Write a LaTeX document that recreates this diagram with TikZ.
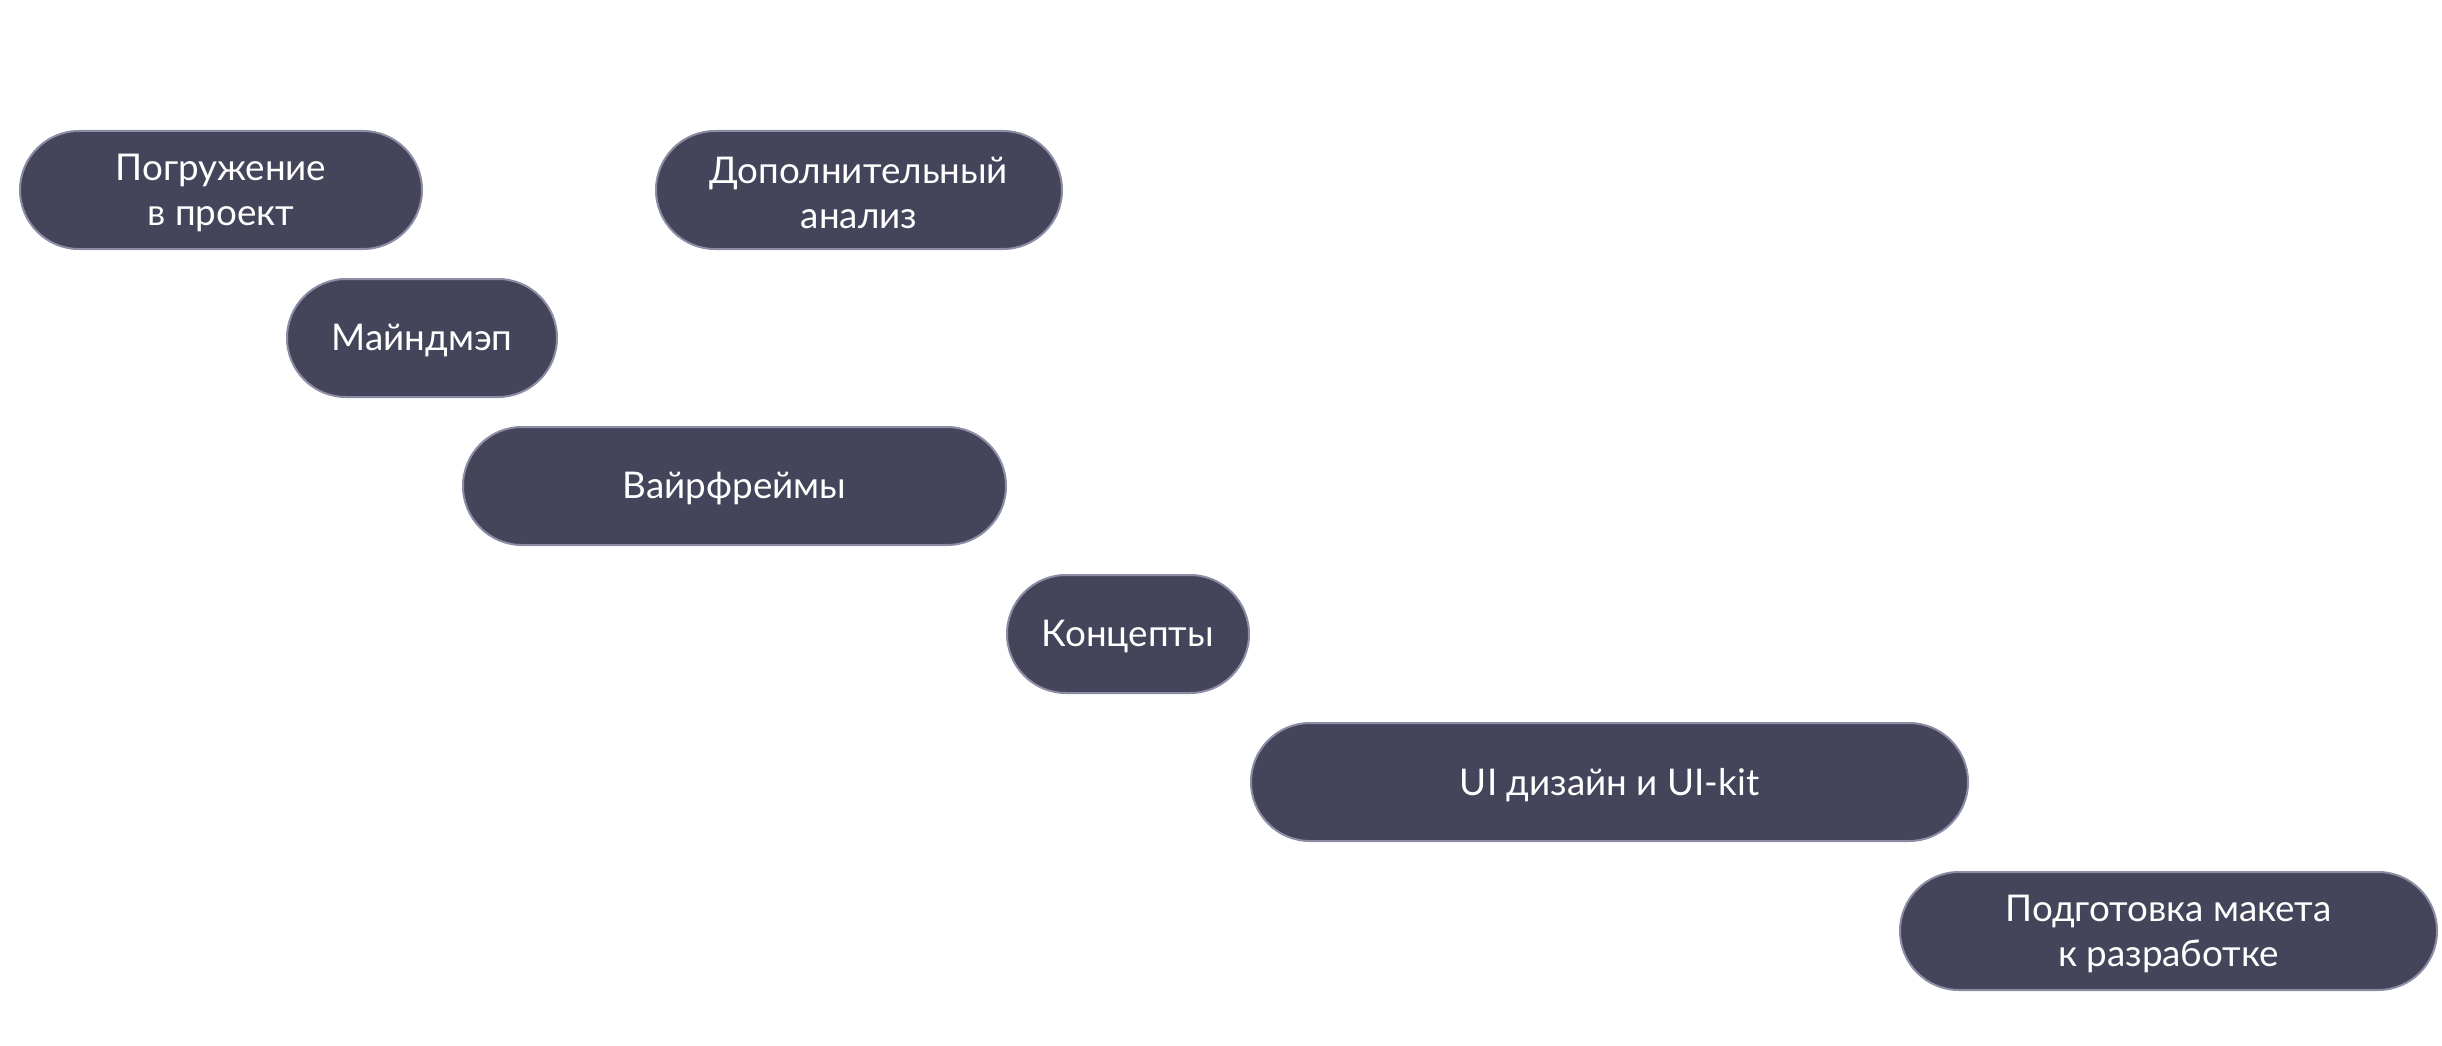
\documentclass[tikz,border=0pt]{standalone}
\usepackage{fontspec}
\setmainfont{Lato}
\definecolor{pillfill}{HTML}{44445A}
\definecolor{pillline}{HTML}{8C8CA4}
\begin{document}
\begin{tikzpicture}[x=1pt,y=-1pt,
  pill/.style={draw=pillline, line width=2pt, fill=pillfill, rounded corners=59pt,
    minimum height=118pt, inner sep=0pt},
  pilltext/.style={inner sep=0pt, text=white, align=center,
    font=\fontsize{36.8}{45}\selectfont}]
\useasboundingbox[fill=white] (0,0) rectangle (2442,1046);
\node[pill, minimum width=402pt] (p1) at (221,190) {};
\node[pill, minimum width=406pt] (p2) at (859,190) {};
\node[pill, minimum width=270pt] (p3) at (422,338) {};
\node[pill, minimum width=543pt] (p4) at (734.5,486) {};
\node[pill, minimum width=242pt] (p5) at (1128,634) {};
\node[pill, minimum width=717pt] (p6) at (1609.5,782) {};
\node[pill, minimum width=537pt] (p7) at (2168.5,931) {};
\node[pilltext] (t1) at ([yshift=-3pt]p1.center) {Погружение\\в проект};
\node[pilltext] (t2) at ([yshift=-3pt]p2.center) {Дополнительный\\анализ};
\node[pilltext] (t3) at ([yshift=-3pt]p3.center) {Майндмэп};
\node[pilltext] (t4) at ([yshift=-3pt]p4.center) {Вайрфреймы};
\node[pilltext] (t5) at ([yshift=-3pt]p5.center) {Концепты};
\node[pilltext] (t6) at ([yshift=-3pt]p6.center) {UI дизайн и UI-kit};
\node[pilltext] (t7) at ([yshift=-3pt]p7.center) {Подготовка макета\\к разработке};
\end{tikzpicture}
\end{document}
